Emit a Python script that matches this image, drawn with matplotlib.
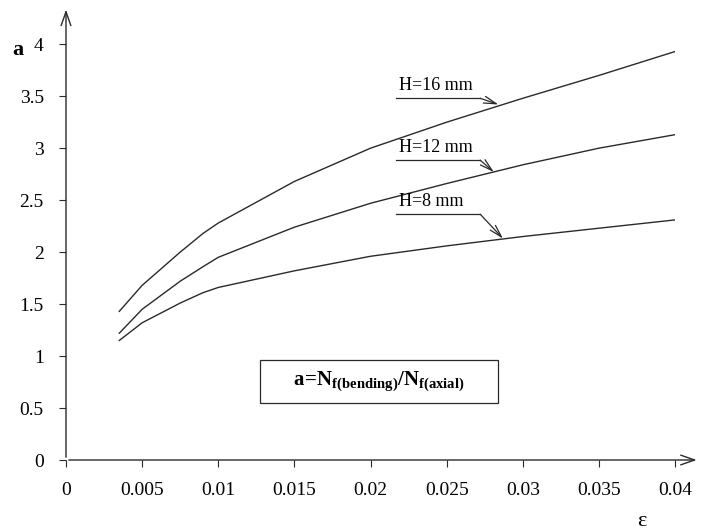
import matplotlib.pyplot as plt
import numpy as np

plt.rcParams['font.family'] = ['Liberation Serif', 'DejaVu Serif']
plt.rcParams['mathtext.fontset'] = 'custom'
plt.rcParams['mathtext.rm'] = 'Liberation Serif'
plt.rcParams['mathtext.bf'] = 'Liberation Serif:bold'

# strain values and ratio a for each thickness
strain = [0.0035, 0.005, 0.0075, 0.009, 0.01, 0.015, 0.02, 0.025, 0.03, 0.035, 0.04]
a_h16 = [1.43, 1.68, 2.00, 2.18, 2.28, 2.68, 3.00, 3.25, 3.48, 3.70, 3.93]
a_h12 = [1.22, 1.45, 1.72, 1.86, 1.95, 2.24, 2.47, 2.66, 2.84, 3.00, 3.13]
a_h8 = [1.15, 1.32, 1.51, 1.61, 1.66, 1.82, 1.96, 2.06, 2.15, 2.23, 2.31]
labels = ["H=16 mm", "H=12 mm", "H=8 mm"]
xticks = [0, 0.005, 0.01, 0.015, 0.02, 0.025, 0.03, 0.035, 0.04]
xticklabels = ["0", "0.005", "0.01", "0.015", "0.02", "0.025", "0.03", "0.035", "0.04"]
yticks = [0, 0.5, 1, 1.5, 2, 2.5, 3, 3.5, 4]
yticklabels = ["0", "0.5", "1", "1.5", "2", "2.5", "3", "3.5", "4"]

fig = plt.figure(figsize=(7.05, 5.31), dpi=100)
ax = fig.add_axes([0.0936, 0.1337, 0.864, 0.783])

col = "#2a2a2a"
for ys in (a_h16, a_h12, a_h8):
    ax.plot(strain, ys, color=col, lw=1.0)

ax.set_xlim(0, 0.04)
ax.set_ylim(0, 4)
for s in ax.spines.values():
    s.set_visible(False)

# axes with open arrow heads
ax.annotate("", xy=(1.04, 0), xytext=(0, 0), xycoords="axes fraction",
            arrowprops=dict(arrowstyle="->,head_length=1.0,head_width=0.35", color=col, lw=1.0),
            annotation_clip=False)
ax.annotate("", xy=(0, 1.09), xytext=(0, 0), xycoords="axes fraction",
            arrowprops=dict(arrowstyle="->,head_length=1.0,head_width=0.35", color=col, lw=1.0),
            annotation_clip=False)

ax.set_xticks(xticks)
ax.set_xticklabels(xticklabels)
ax.set_yticks(yticks)
ax.set_yticklabels(yticklabels)
ax.tick_params(axis="x", direction="out", length=5, width=0.8, color=col, pad=11, labelsize=14)
ax.tick_params(axis="y", direction="out", length=5, width=0.8, color=col, pad=11, labelsize=14)

fig.text(12 / 705, 1 - 50 / 531, "a", fontsize=16, fontweight="bold", va="center", ha="left")
fig.text(642 / 705, 1 - 522 / 531, "ε", fontsize=16, va="center", ha="center")

# labels with underline and arrow to curve
label_y = [3.48, 2.885, 2.365]
tips = [(0.0284, 3.42), (0.0281, 2.77), (0.0287, 2.13)]
for lab, ly, tip in zip(labels, label_y, tips):
    ax.plot([0.0217, 0.0272], [ly, ly], color=col, lw=0.9)
    ax.annotate("", xy=tip, xytext=(0.0272, ly),
                arrowprops=dict(arrowstyle="->,head_length=0.9,head_width=0.25", color=col, lw=0.9,
                                shrinkA=0, shrinkB=0))
    ax.text(0.0219, ly + 0.04, lab, fontsize=13, ha="left", va="bottom")

# formula box
ax.add_patch(plt.Rectangle((0.3186, 0.137), 0.3904, 0.103, transform=ax.transAxes,
                           fill=False, edgecolor=col, lw=0.9))
ax.text(0.514, 0.19, r"$\mathbf{a\!=\!N_{f(bending)}/N_{f(axial)}}$", transform=ax.transAxes,
        fontsize=15, ha="center", va="center")

fig.savefig("out.png", dpi=100)
